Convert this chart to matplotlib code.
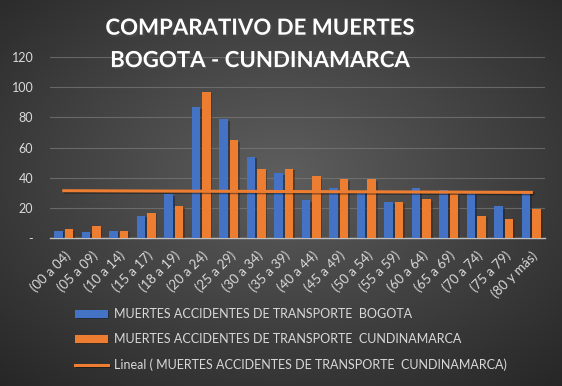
import numpy as np
import matplotlib.pyplot as plt
import matplotlib.patheffects as pe

plt.rcParams['font.family'] = ['Lato', 'DejaVu Sans']

# ---- datos ----
grupos = ["(00 a 04)", "(05 a 09)", "(10 a 14)", "(15 a 17)", "(18 a 19)", "(20 a 24)",
          "(25 a 29)", "(30 a 34)", "(35 a 39)", "(40 a 44)", "(45 a 49)", "(50 a 54)",
          "(55 a 59)", "(60 a 64)", "(65 a 69)", "(70 a 74)", "(75 a 79)", "(80 y más)"]
bogota = [5, 4, 5, 15, 29, 87, 79, 54, 43, 25, 33, 31, 24, 33, 32, 30, 21, 31]
cundinamarca = [6, 8, 5, 17, 21, 97, 65, 46, 46, 41, 39, 39, 24, 26, 29, 15, 13, 19]

lbl_bog = "MUERTES ACCIDENTES DE TRANSPORTE  BOGOTA"
lbl_cun = "MUERTES ACCIDENTES DE TRANSPORTE  CUNDINAMARCA"
lbl_lin = "Lineal ( MUERTES ACCIDENTES DE TRANSPORTE  CUNDINAMARCA)"

azul = '#4472C4'
naranja = '#ED7D31'
gris_txt = '#D9D9D9'

fig = plt.figure(figsize=(5.62, 3.86), dpi=100)

# fondo con degradado radial (oscuro en los bordes)
bg = fig.add_axes([0, 0, 1, 1], zorder=-10)
yy, xx = np.mgrid[0:1:200j, 0:1:300j]
r = np.sqrt(((xx - 0.5) / 0.75) ** 2 + ((yy - 0.45) / 0.75) ** 2)
r = np.clip(r, 0, 1)
c0 = np.array([0x5e, 0x5e, 0x5e]) / 255
c1 = np.array([0x26, 0x26, 0x26]) / 255
img = c0[None, None, :] * (1 - r[..., None]) + c1[None, None, :] * r[..., None]
bg.imshow(img, aspect='auto', extent=[0, 1, 0, 1], origin='upper')
bg.axis('off')

ax = fig.add_axes([0.089, 0.383, 0.881, 0.469])
ax.patch.set_alpha(0)

x = np.arange(len(grupos))
w = 0.31
sombra = [pe.SimplePatchShadow(offset=(1.2, -1.2), alpha=0.5), pe.Normal()]
b1 = ax.bar(x - 0.19, bogota, w, color=azul, label=lbl_bog, zorder=3)
b2 = ax.bar(x + 0.19, cundinamarca, w, color=naranja, label=lbl_cun, zorder=3)
for b in list(b1) + list(b2):
    b.set_path_effects(sombra)

# linea de tendencia lineal de Cundinamarca
m, c = np.polyfit(x, cundinamarca, 1)
ln, = ax.plot(x, m * x + c, color=naranja, lw=2.2, label=lbl_lin, zorder=4,
              path_effects=[pe.SimpleLineShadow(offset=(1, -1), alpha=0.4), pe.Normal()])

ax.set_xlim(-0.5, 17.5)
ax.set_ylim(0, 120)
ax.set_yticks([0, 20, 40, 60, 80, 100, 120])
ax.set_yticklabels(['-', '20', '40', '60', '80', '100', '120'])
ax.yaxis.grid(True, color='#7a7a7a', lw=0.8, alpha=0.7, zorder=0)
ax.set_xticks(x)
ax.set_xticklabels(grupos, rotation=45, ha='right', rotation_mode='anchor')
ax.tick_params(axis='y', length=0, pad=12, labelsize=9, labelcolor=gris_txt)
ax.tick_params(axis='x', length=0, pad=8, labelsize=9.5, labelcolor=gris_txt)
for s in ['top', 'right', 'left']:
    ax.spines[s].set_visible(False)
ax.spines['bottom'].set_color('#bfbfbf')
ax.spines['bottom'].set_linewidth(1)

fig.text(0.463, 0.927, "COMPARATIVO DE MUERTES", ha='center', va='center',
         fontsize=16, fontweight='bold', color='white',
         path_effects=[pe.withSimplePatchShadow(offset=(1.5, -1.5), alpha=0.6)])
fig.text(0.463, 0.843, "BOGOTA - CUNDINAMARCA", ha='center', va='center',
         fontsize=16, fontweight='bold', color='white',
         path_effects=[pe.withSimplePatchShadow(offset=(1.5, -1.5), alpha=0.6)])

leg = fig.legend(handles=[b1, b2, ln], loc='upper left', bbox_to_anchor=(0.125, 0.215),
                 frameon=False, fontsize=9, labelcolor=gris_txt, handlelength=2.6,
                 handleheight=0.6, labelspacing=1.05, borderaxespad=0, handletextpad=0.5)

plt.savefig("out.png", dpi=100)
